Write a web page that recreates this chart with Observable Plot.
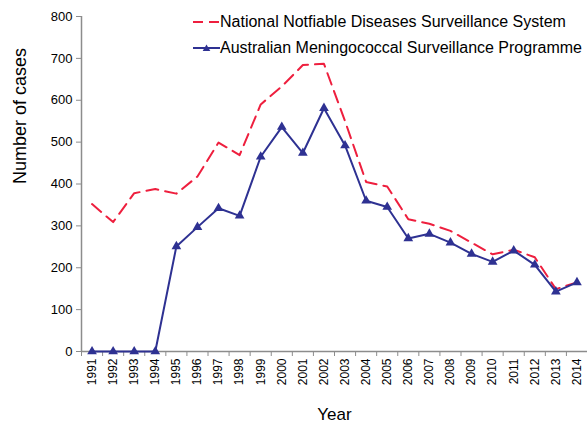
<!DOCTYPE html>
<html><head><meta charset="utf-8">
<script src="https://cdn.jsdelivr.net/npm/d3@7"></script>
<script src="https://cdn.jsdelivr.net/npm/@observablehq/plot@0.6"></script>
<style>
body{margin:0;background:#fff;font-family:"Liberation Sans",Arial,sans-serif;}
#wrap{position:relative;width:587px;height:426px;overflow:hidden;}
.leg{position:absolute;left:193px;display:flex;align-items:center;font-size:16px;color:#000;white-space:nowrap;line-height:1;}
.leg svg{display:block;}
</style></head><body><div id="wrap"></div>
<script>
const years = [1991,1992,1993,1994,1995,1996,1997,1998,1999,2000,2001,2002,2003,2004,2005,2006,2007,2008,2009,2010,2011,2012,2013,2014];
const nndss = [352,309,378,388,377,418,499,469,590,633,684,687,550,405,394,316,305,288,260,232,243,225,149,165];
const amsp  = [0,0,0,0,251,297,342,324,465,536,474,581,492,360,345,270,281,260,233,214,241,207,143,165];
const yTicks = [0,100,200,300,400,500,600,700,800];
const seriesNames = ["National Notfiable Diseases Surveillance System","Australian Meningococcal Surveillance Programme"];
const colors = ["#ee1f3e","#2e3192"];
const axisColor = "#8c8c8c";

const data = years.map((y,i)=>({year:y, nndss:nndss[i], amsp:amsp[i]}));
const boundaries = d3.range(years.length+1).map(i => years[0]-0.5+i);

const chart = Plot.plot({
  width:587, height:426, marginLeft:81, marginRight:0, marginTop:16, marginBottom:75,
  style:{fontFamily:"Liberation Sans, Arial, sans-serif", background:"#fff", color:"#000"},
  x:{domain:[years[0]-0.5, years[years.length-1]+0.5], axis:null},
  y:{domain:[0,800], axis:null},
  marks:[
    Plot.axisY({ticks:yTicks, tickSize:5, tickPadding:4, fontSize:13, stroke:axisColor, tickFormat:d=>String(d), label:null}),
    Plot.axisX(boundaries,{tickSize:5, tickFormat:()=>"", stroke:axisColor, label:null}),
    Plot.axisX(years,{tickSize:0, tickRotate:-90, tickPadding:7, fontSize:12, tickFormat:d=>String(d), label:null}),
    Plot.ruleX([boundaries[0]],{stroke:axisColor, strokeWidth:1.5}),
    Plot.ruleY([0],{stroke:axisColor, strokeWidth:1.5}),
    Plot.line(data,{x:"year", y:"nndss", stroke:colors[0], strokeWidth:2, strokeDasharray:"12,7"}),
    Plot.line(data,{x:"year", y:"amsp", stroke:colors[1], strokeWidth:2}),
    Plot.dot(data,{x:"year", y:"amsp", symbol:"triangle", r:3.6, fill:colors[1], stroke:null}),
    Plot.text(["Number of cases"],{text:d=>d, frameAnchor:"left", dx:-61, rotate:-90, fontSize:18, lineAnchor:"middle", fill:"#000"}),
    Plot.text(["Year"],{text:d=>d, frameAnchor:"bottom", dy:63, fontSize:17, lineAnchor:"middle", fill:"#000"})
  ]
});
const wrap = document.getElementById("wrap");
wrap.appendChild(chart);

const legTops = [13, 39];
seriesNames.forEach((name,i)=>{
  const d = document.createElement("div");
  d.className = "leg";
  d.style.top = legTops[i]+"px";
  const ns = "http://www.w3.org/2000/svg";
  const s = document.createElementNS(ns,"svg");
  s.setAttribute("width","27"); s.setAttribute("height","18");
  const l = document.createElementNS(ns,"line");
  l.setAttribute("x1","0"); l.setAttribute("x2","27"); l.setAttribute("y1","9"); l.setAttribute("y2","9");
  l.setAttribute("stroke",colors[i]); l.setAttribute("stroke-width","2");
  if(i===0) l.setAttribute("stroke-dasharray","10,6");
  s.appendChild(l);
  if(i===1){
    const p = document.createElementNS(ns,"path");
    p.setAttribute("d","M13.5,5.5L17.3,12L9.7,12Z");
    p.setAttribute("fill",colors[i]);
    s.appendChild(p);
  }
  d.appendChild(s);
  const t = document.createElement("span");
  t.textContent = name;
  d.appendChild(t);
  wrap.appendChild(d);
});
</script>
</body></html>
